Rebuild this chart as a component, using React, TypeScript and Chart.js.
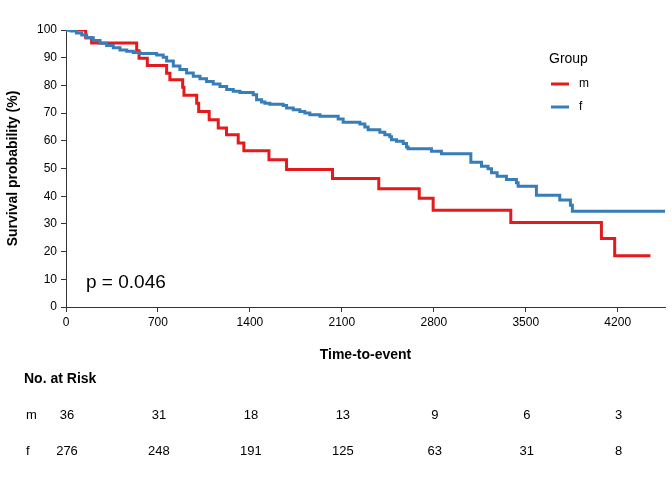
import { useEffect, useRef } from 'react';
import { Chart, registerables } from 'chart.js';

Chart.register(...registerables);

const FONT = '"Liberation Sans", Arial, Helvetica, sans-serif';

// Kaplan-Meier steps (time, survival %)
const mTimes = [0, 150, 195, 538, 556, 619, 766, 791, 888, 898, 995, 1010, 1090, 1159, 1222, 1311, 1354, 1545, 1679, 2029, 2381, 2689, 2795, 3386, 4076, 4177, 4449];
const mSurv = [100, 97.2, 95.3, 92.5, 89.8, 87.2, 84.4, 82.0, 79.3, 76.4, 73.6, 70.6, 67.6, 64.6, 62.2, 59.2, 56.4, 53.2, 49.6, 46.4, 42.7, 39.3, 34.9, 30.5, 24.7, 18.5, 18.5];

const fTimes = [0, 40, 80, 120, 157, 208, 259, 309, 360, 411, 462, 512, 563, 690, 740, 766, 817, 867, 918, 969, 1020, 1070, 1121, 1172, 1223, 1273, 1324, 1425, 1451, 1489, 1514, 1552, 1653, 1679, 1730, 1780, 1818, 1856, 1933, 2072, 2110, 2237, 2275, 2300, 2389, 2427, 2465, 2478, 2516, 2567, 2592, 2604, 2782, 2858, 3082, 3163, 3213, 3239, 3282, 3353, 3429, 3442, 3581, 3759, 3840, 3855, 4560];
const fSurv = [100, 99.6, 98.9, 98.2, 97.2, 96.2, 95.2, 94.4, 93.6, 92.8, 92.3, 91.9, 91.5, 91.0, 90.2, 88.8, 87.0, 85.7, 84.5, 83.3, 82.4, 81.4, 80.5, 79.6, 78.5, 77.9, 77.4, 76.6, 74.8, 74.0, 73.6, 73.2, 72.7, 71.8, 71.2, 70.6, 70.0, 69.4, 68.9, 67.9, 66.7, 66.1, 65.0, 64.0, 63.1, 62.2, 61.5, 60.4, 59.8, 59.0, 57.8, 57.1, 56.2, 55.3, 52.3, 50.8, 49.9, 48.5, 47.2, 46.0, 44.9, 43.6, 40.3, 38.6, 36.7, 34.6, 34.6];

const xTicks = [0, 700, 1400, 2100, 2800, 3500, 4200];
const yTicks = [0, 10, 20, 30, 40, 50, 60, 70, 80, 90, 100];
const groups = ['m', 'f'];
const groupColors = ['#E41A1C', '#377EB8'];
const riskM = [36, 31, 18, 13, 9, 6, 3];
const riskF = [276, 248, 191, 125, 63, 31, 8];
const pText = 'p = 0.046';

const toPoints = (t: number[], s: number[]) => t.map((x, i) => ({ x, y: s[i] }));

// extra text: p value, legend and the risk table
const extrasPlugin = {
  id: 'extras',
  afterDraw(chart: any) {
    const { ctx, chartArea } = chart;
    const xs = chart.scales.x;
    ctx.save();
    ctx.fillStyle = '#000';

    ctx.font = `19px ${FONT}`;
    ctx.textAlign = 'left';
    ctx.textBaseline = 'alphabetic';
    ctx.fillText(pText, chartArea.left + 20, 288);

    // legend
    ctx.font = `14px ${FONT}`;
    ctx.textBaseline = 'middle';
    ctx.fillText('Group', 549, 59);
    ctx.font = `12px ${FONT}`;
    const legendY = [84, 107];
    groups.forEach((g, i) => {
      ctx.strokeStyle = groupColors[i];
      ctx.lineWidth = 3;
      ctx.beginPath();
      ctx.moveTo(551, legendY[i]);
      ctx.lineTo(569, legendY[i]);
      ctx.stroke();
      ctx.fillText(g, 579, legendY[i]);
    });

    // risk table
    ctx.font = `bold 14px ${FONT}`;
    ctx.fillText('No. at Risk', 24, 379);
    ctx.font = `13px ${FONT}`;
    const rows = [riskM, riskF];
    const rowY = [415, 451];
    rows.forEach((row, r) => {
      ctx.textAlign = 'left';
      ctx.fillText(groups[r], 26, rowY[r]);
      ctx.textAlign = 'center';
      row.forEach((n, i) => {
        ctx.fillText(String(n), xs.getPixelForValue(xTicks[i]) + 1, rowY[r]);
      });
    });
    ctx.restore();
  },
};

const SurvivalChart = () => {
  const chartRef = useRef<HTMLCanvasElement>(null);
  const chartInstance = useRef<Chart | null>(null);

  useEffect(() => {
    if (!chartRef.current) return;
    if (chartInstance.current) chartInstance.current.destroy();
    const ctx = chartRef.current.getContext('2d');
    if (!ctx) return;

    Chart.defaults.font.family = FONT;
    Chart.defaults.color = '#000';

    const axisGrid = {
      display: true,
      drawOnChartArea: false,
      drawTicks: true,
      tickLength: 5,
      color: '#333',
      lineWidth: 1,
    };

    chartInstance.current = new Chart(ctx, {
      type: 'line',
      data: {
        datasets: [
          {
            label: groups[0],
            data: toPoints(mTimes, mSurv),
            borderColor: groupColors[0],
            borderWidth: 3,
            stepped: 'before',
            pointRadius: 0,
            fill: false,
            order: 1,
          },
          {
            label: groups[1],
            data: toPoints(fTimes, fSurv),
            borderColor: groupColors[1],
            borderWidth: 3,
            stepped: 'before',
            pointRadius: 0,
            fill: false,
            order: 0,
          },
        ],
      },
      options: {
        animation: false,
        responsive: true,
        maintainAspectRatio: false,
        layout: { padding: { left: 0, top: 30, right: 7, bottom: 116 } },
        scales: {
          x: {
            type: 'linear',
            min: 0,
            max: 4560,
            afterBuildTicks: (scale: any) => {
              scale.ticks = xTicks.map((value) => ({ value }));
            },
            afterFit: (scale: any) => {
              scale.height = 57;
            },
            ticks: {
              font: { size: 12 },
              color: '#000',
              padding: 3,
              autoSkip: false,
              maxRotation: 0,
              callback: (v: any) => String(v),
            },
            grid: axisGrid,
            border: { display: true, color: '#333', width: 1 },
            title: {
              display: true,
              text: 'Time-to-event',
              font: { size: 14, weight: 'bold' },
              color: '#000',
              padding: { top: 0, bottom: 0 },
            },
          },
          y: {
            type: 'linear',
            min: 0,
            max: 100,
            afterBuildTicks: (scale: any) => {
              scale.ticks = yTicks.map((value) => ({ value }));
            },
            afterFit: (scale: any) => {
              scale.width = 66;
            },
            ticks: { font: { size: 12 }, color: '#000', padding: 4, callback: (v: any) => String(v) },
            grid: axisGrid,
            border: { display: true, color: '#333', width: 1 },
            title: {
              display: true,
              text: 'Survival probability (%)',
              font: { size: 14, weight: 'bold' },
              color: '#000',
              padding: { top: 5, bottom: 0 },
            },
          },
        },
        plugins: {
          legend: { display: false },
          tooltip: { enabled: false },
        },
      },
      plugins: [extrasPlugin],
    } as any);

    return () => {
      if (chartInstance.current) {
        chartInstance.current.destroy();
        chartInstance.current = null;
      }
    };
  }, []);

  return (
    <div style={{ position: 'absolute', left: 0, top: 0, width: 672, height: 480, background: '#fff' }}>
      <canvas ref={chartRef} />
    </div>
  );
};

export default function App() {
  return <SurvivalChart />;
}
